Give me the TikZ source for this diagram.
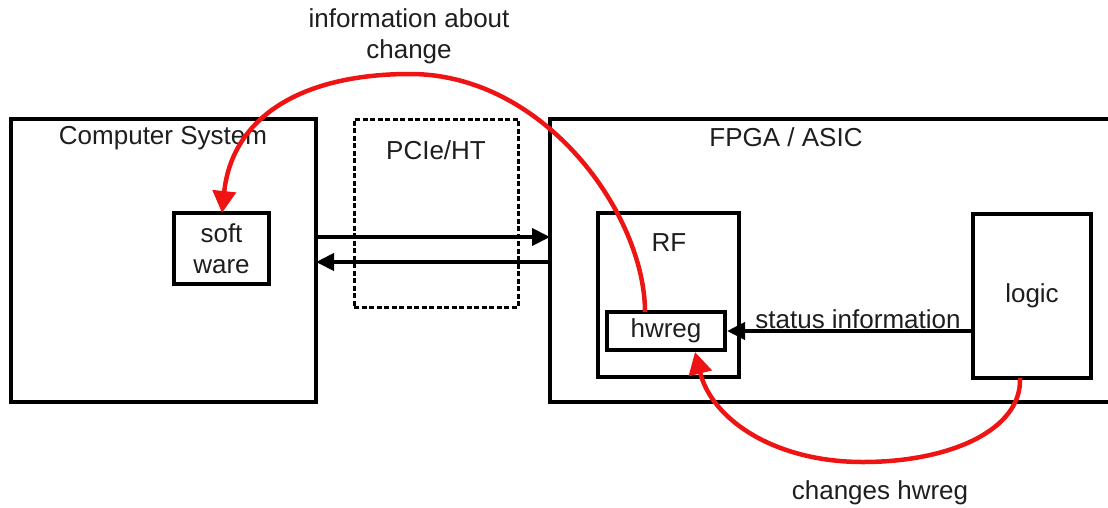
\documentclass[tikz,border=0pt]{standalone}
\usepackage{fontspec}
\setmainfont{Liberation Sans}
\usetikzlibrary{arrows.meta}
\definecolor{arrred}{RGB}{238,20,20}
\definecolor{txt}{RGB}{30,30,30}
\begin{document}
\begin{tikzpicture}[x=1pt,y=-1pt,
  every node/.style={font=\fontsize{26}{31}\selectfont, text=txt, inner sep=0pt},
  box/.style={draw=black, line width=4pt, rectangle},
  dbox/.style={draw=black, line width=3pt, dash pattern=on 5pt off 2.5pt, rectangle},
  lbl/.style={},
  blk/.style={draw=black, line width=4pt, -{Triangle[length=18pt,width=17pt]}},
  redarr/.style={draw=arrred, line width=4.5pt, -{Triangle[length=22pt,width=23pt]}}
]
\useasboundingbox (0,0) rectangle (1108,507);
% Computer system
\node[box, minimum width=305pt, minimum height=283pt] (cs) at (163.5,260.5) {};
\node[lbl] (cslbl) at (163,138) {Computer System};
\node[box, minimum width=95pt, minimum height=71pt, align=center] (sw) at (221.5,248.5) {soft\\ware};
% PCIe
\node[dbox, minimum width=164pt, minimum height=188pt] (pcie) at (436,213) {};
\node[lbl] (pcielbl) at (436,150) {PCIe/HT};
% FPGA
\coordinate (ftr) at (1112,119);
\coordinate (ftl) at (550,119);
\coordinate (fbl) at (550,402);
\coordinate (fbr) at (1112,402);
\draw[line width=4pt] (ftr) -- (ftl) -- (fbl) -- (fbr);
\node[lbl] (fpgalbl) at (786,137) {FPGA / ASIC};
\node[box, minimum width=141pt, minimum height=164pt] (rf) at (668.5,295) {};
\node[lbl] (rflbl) at (669,243) {RF};
\node[box, minimum width=118pt, minimum height=38pt] (hw) at (666,331) {hwreg};
\node[box, minimum width=118pt, minimum height=164pt] (logic) at (1032,296) {logic};
% black arrows
\coordinate (a1s) at (316,237);
\coordinate (a1e) at (550,237);
\coordinate (a2s) at (550,262);
\coordinate (a2e) at (316,262);
\draw[blk] (a1s) -- (a1e);
\draw[blk] (a2s) -- (a2e);
\draw[blk] (logic.west |- 0,331) -- (hw.east |- 0,331);
\node[lbl] (stat) at (858,319) {status information};
% red arrows
\coordinate (r1s) at (645,312);
\coordinate (r1m) at (410,74);
\coordinate (r1e) at (222,213);
\draw[redarr] (r1s) .. controls (645,215) and (545,74) .. (r1m)
   .. controls (300,74) and (232,118) .. (r1e);
\node[lbl, align=center] (info) at (409,36) {information about\\change};
\coordinate (r2s) at (1020,378);
\coordinate (r2m) at (863,462);
\coordinate (r2e) at (695,352);
\draw[redarr] (r2s) .. controls (1022,430) and (950,462) .. (r2m)
   .. controls (775,462) and (712,420) .. (r2e);
\node[lbl] (chg) at (880,493) {changes hwreg};
\end{tikzpicture}
\end{document}
